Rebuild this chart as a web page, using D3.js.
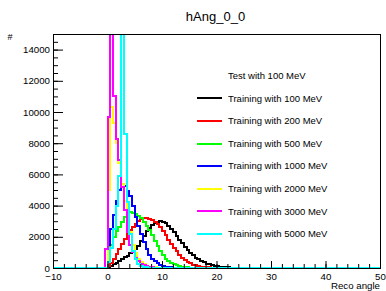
<!DOCTYPE html>
<html>
<head>
<meta charset="utf-8">
<script src="https://cdn.jsdelivr.net/npm/d3@7"></script>
<style>
  body { margin: 0; background: #fff; }
  svg { display: block; font-family: "Liberation Sans", Arial, sans-serif; }
</style>
</head>
<body>
<div id="chart"></div>
<script>
// histogram binning (x range -10..50, 0.5 per bin)
const binWidth = 0.5;
const xMin = -10, xMax = 50;

const title = "hAng_0_0";
const xTitle = "Reco angle";
const yTitle = "#";
const legendHeader = "Test with 100 MeV";
const energies = [100, 200, 500, 1000, 2000, 3000, 5000];
const colors = ["#000000", "#ff0000", "#00ff00", "#0000ff", "#ffff00", "#ff00ff", "#00ffff"];

// lower edge of the first listed bin for each series
const firstEdge = [0, 0, 0, 0, 0, -0.5, 0];

const counts100 = [60, 150, 250, 350, 450, 560, 680, 800, 930, 1070, 1230, 1420, 1700, 2050, 2350, 2580,
  2760, 2900, 2980, 3000, 2960, 2860, 2710, 2510, 2290, 2050, 1810, 1580, 1360, 1160, 980, 810, 670, 550,
  440, 355, 285, 225, 178, 140, 110, 86, 67, 52, 41, 32, 25, 20, 16, 13, 10, 8, 6, 5, 4, 3, 2, 2, 1, 1];
const counts200 = [100, 350, 600, 900, 1250, 1550, 1850, 2150, 2450, 2650, 2850, 3000, 3120, 3180, 3200,
  3150, 3080, 2950, 2800, 2600, 2350, 2100, 1820, 1560, 1300, 1060, 850, 670, 520, 400, 300, 220, 165, 120,
  90, 65, 48, 35, 25, 18, 12, 8, 5, 3, 2, 1];
const counts500 = [600, 1500, 2000, 2350, 2650, 2950, 3250, 3450, 3580, 3550, 3480, 3350, 3180, 2950, 2720,
  2430, 2100, 1750, 1400, 1100, 820, 600, 440, 320, 230, 165, 120, 85, 60, 42, 30, 20, 14, 9, 6, 4, 2, 1];
const counts1000 = [1500, 2500, 3400, 4300, 5000, 5400, 5250, 4950, 4600, 4000, 3300, 2700, 2150, 1650, 1200,
  850, 600, 420, 290, 200, 140, 95, 65, 45, 30, 20, 14, 9, 6, 4, 2, 1];
const counts2000 = [5000, 10300, 9300, 8000, 6700, 5400, 4300, 3300, 2300, 1500, 950, 600, 380, 240, 150, 95,
  60, 38, 24, 15, 9, 5, 3, 2, 1];
const counts3000 = [1200, 9700, 24000, 11000, 8300, 6900, 5200, 3700, 2300, 1500, 1000, 650, 420, 270, 175,
  115, 75, 48, 30, 19, 12, 7, 4, 2, 1];
const counts5000 = [400, 1300, 2500, 4000, 5900, 22000, 8600, 4200, 2200, 1100, 550, 280, 150, 80, 45, 25,
  14, 8, 4, 2, 1];

const allCounts = [counts100, counts200, counts500, counts1000, counts2000, counts3000, counts5000];

const xMajor = [-10, 0, 10, 20, 30, 40, 50];
const yMajor = [0, 2000, 4000, 6000, 8000, 10000, 12000, 14000];

const width = 386, height = 291;
const frame = { left: 53, right: 380, top: 34, bottom: 268 };

const svg = d3.select("#chart").append("svg")
  .attr("width", width)
  .attr("height", height);

const x = d3.scaleLinear().domain([xMin, xMax]).range([frame.left, frame.right]);
const y = d3.scaleLinear().domain([0, 15000]).range([frame.bottom, frame.top]);

// clip for the histograms
svg.append("clipPath").attr("id", "plotclip")
  .append("rect")
  .attr("x", frame.left).attr("y", frame.top)
  .attr("width", frame.right - frame.left)
  .attr("height", frame.bottom - frame.top + 2);

// build the full set of bins for one series
function buildBins(first, counts) {
  const n = Math.round((xMax - xMin) / binWidth);
  const offset = Math.round((first - xMin) / binWidth);
  const vals = d3.range(n).map(() => 0);
  counts.forEach((c, i) => { vals[offset + i] = c; });
  const pts = [[xMin, 0]];
  vals.forEach((v, i) => {
    const lo = xMin + i * binWidth;
    pts.push([lo, v], [lo + binWidth, v]);
  });
  pts.push([xMax, 0]);
  return pts;
}

const line = d3.line()
  .x(d => x(d[0]))
  .y(d => y(d[1]));

const hists = svg.append("g").attr("clip-path", "url(#plotclip)");
allCounts.forEach((counts, i) => {
  hists.append("path")
    .attr("d", line(buildBins(firstEdge[i], counts)))
    .attr("fill", "none")
    .attr("stroke", colors[i])
    .attr("stroke-width", 2)
    .attr("shape-rendering", "crispEdges");
});

// axes
const fontSize = "9.7px";

svg.append("g")
  .attr("transform", `translate(${frame.left},0)`)
  .call(d3.axisLeft(y).tickValues(yMajor).tickSize(-10).tickPadding(3).tickFormat(d3.format("d")));
svg.append("g")
  .attr("transform", `translate(${frame.left},0)`)
  .call(d3.axisLeft(y).tickValues(d3.range(0, 15001, 500)).tickSize(-5).tickFormat(""));

svg.append("g")
  .attr("transform", `translate(0,${frame.bottom})`)
  .call(d3.axisBottom(x).tickValues(xMajor).tickSize(-7).tickPadding(5));
svg.append("g")
  .attr("transform", `translate(0,${frame.bottom})`)
  .call(d3.axisBottom(x).tickValues(d3.range(xMin, xMax + 1, 2)).tickSize(-4).tickFormat(""));

svg.selectAll(".domain").remove();
svg.selectAll(".tick line").attr("stroke", "#000");
svg.selectAll(".tick text")
  .attr("fill", "#000")
  .style("font-size", fontSize)
  .style("font-family", "'Liberation Sans', Arial, sans-serif");

// frame
svg.append("rect")
  .attr("x", frame.left).attr("y", frame.top)
  .attr("width", frame.right - frame.left)
  .attr("height", frame.bottom - frame.top)
  .attr("fill", "none")
  .attr("stroke", "#000")
  .attr("stroke-width", 1)
  .attr("shape-rendering", "crispEdges");

// titles
svg.append("text")
  .attr("x", 215.5).attr("y", 21)
  .attr("text-anchor", "middle")
  .style("font-size", "13px")
  .text(title);

svg.append("text")
  .attr("x", frame.right).attr("y", 289)
  .attr("text-anchor", "end")
  .style("font-size", fontSize)
  .text(xTitle);

svg.append("text")
  .attr("x", 10).attr("y", 40)
  .attr("text-anchor", "middle")
  .style("font-size", "9px")
  .text(yTitle);

// legend
const legX = 197, legTextX = 228, legY0 = 75.7, legStep = 22.6;
svg.append("text")
  .attr("x", legTextX).attr("y", legY0)
  .attr("dy", "0.35em")
  .style("font-size", "9.5px")
  .text(legendHeader);

energies.forEach((e, i) => {
  const yy = legY0 + legStep * (i + 1);
  svg.append("line")
    .attr("x1", legX).attr("x2", legX + 25)
    .attr("y1", yy).attr("y2", yy)
    .attr("stroke", colors[i])
    .attr("stroke-width", 2)
    .attr("shape-rendering", "crispEdges");
  svg.append("text")
    .attr("x", legTextX).attr("y", yy)
    .attr("dy", "0.35em")
    .style("font-size", "9.5px")
    .text(`Training with ${e} MeV`);
});
</script>
</body>
</html>
